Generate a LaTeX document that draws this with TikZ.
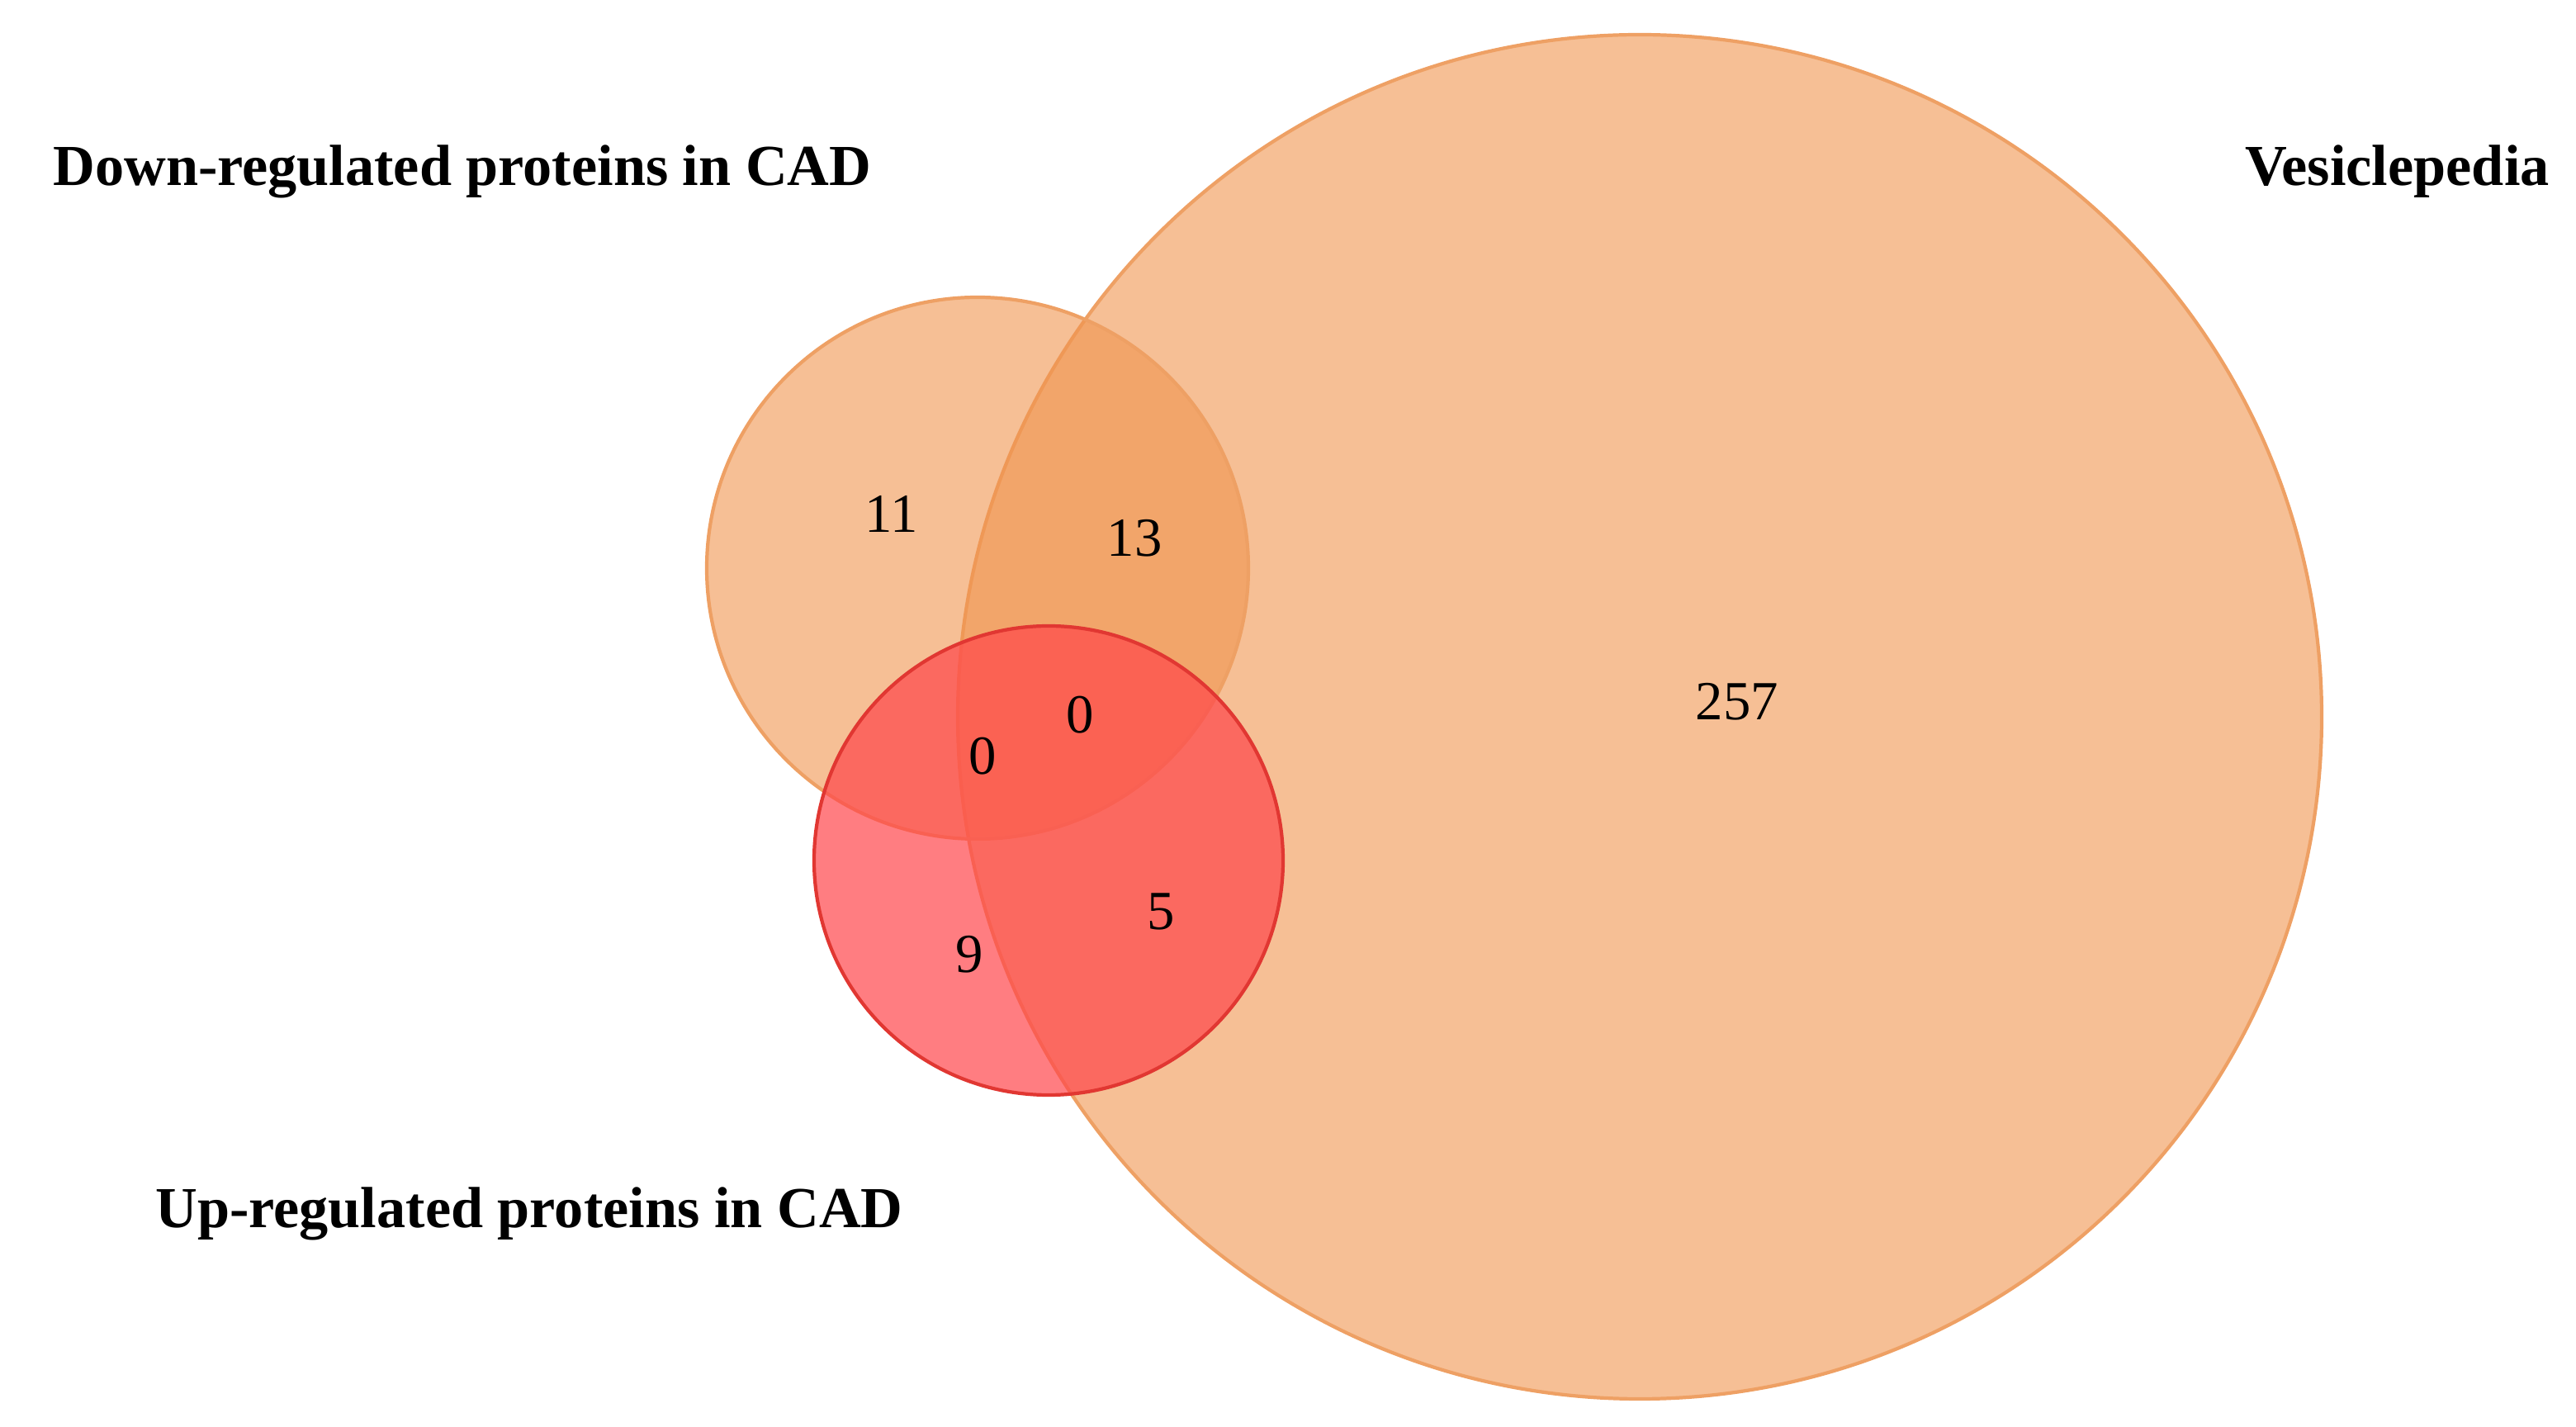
\documentclass[tikz,border=0pt]{standalone}
\usepackage{fontspec}
\setmainfont{Liberation Serif}
\definecolor{ora}{RGB}{240,148,78}
\definecolor{oraedge}{RGB}{238,160,100}
\definecolor{redf}{RGB}{255,70,75}
\definecolor{rededge}{RGB}{225,55,50}
\begin{document}
\begin{tikzpicture}[x=0.02cm,y=-0.02cm,
 lbl/.style={font=\fontsize{20}{24}\selectfont\bfseries},
 num/.style={font=\fontsize{19}{23}\selectfont}]
\useasboundingbox (0,0) rectangle (1560,864);
\fill[ora,fill opacity=0.6] (993,434) circle[radius=413];
\draw[oraedge,line width=1.2pt] (993,434) circle[radius=413];
\fill[ora,fill opacity=0.6] (592,344) circle[radius=164];
\draw[oraedge,line width=1.2pt] (592,344) circle[radius=164];
\fill[redf,fill opacity=0.7] (635,521) circle[radius=142];
\draw[rededge,line width=1.2pt] (635,521) circle[radius=142];
\node[lbl,anchor=west] (d) at (26,104) {Down-regulated proteins in CAD};
\node[lbl,anchor=east] (v) at (1550,104) {Vesiclepedia};
\node[lbl,anchor=west] (u) at (88,735) {Up-regulated proteins in CAD};
\node[num] (n11) at (540,311) {11};
\node[num] (n13) at (687,326) {13};
\node[num] (n257) at (1052,425) {257};
\node[num] (n0a) at (595,458) {0};
\node[num] (n0b) at (654,433) {0};
\node[num] (n9) at (587,578) {9};
\node[num] (n5) at (703,552) {5};
\end{tikzpicture}
\end{document}
